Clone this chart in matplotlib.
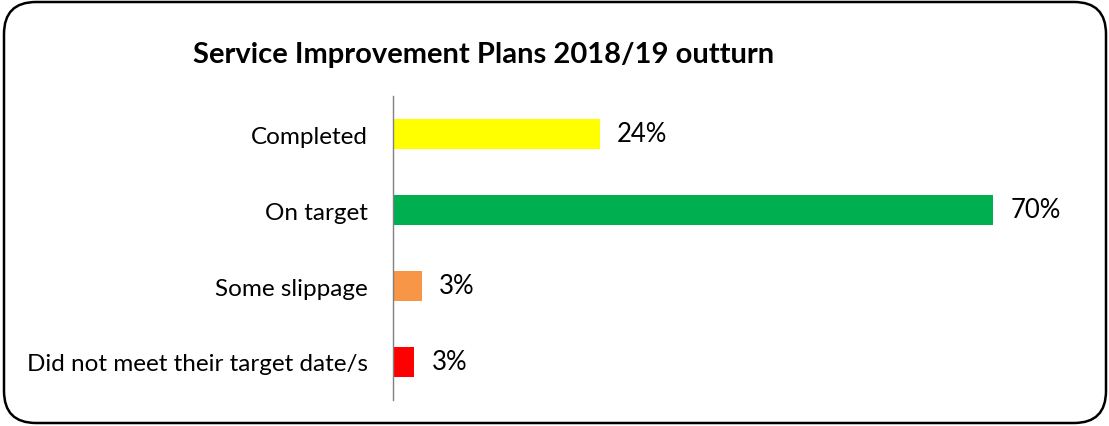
import matplotlib
matplotlib.use("Agg")
import matplotlib.pyplot as plt
from matplotlib.patches import FancyBboxPatch

categories = ["Completed", "On target", "Some slippage", "Did not meet their target date/s"]
values = [24.1, 70.0, 3.4, 2.5]
value_labels = ["24%", "70%", "3%", "3%"]
colors = ["#FFFF00", "#00B050", "#F79646", "#FF0000"]

plt.rcParams['font.family'] = ['Lato', 'DejaVu Sans']

W, H = 1109, 427
fig = plt.figure(figsize=(W / 100, H / 100), dpi=100)

# rounded frame round the whole chart
frame = FancyBboxPatch((0.04, 0.03), 11.02, 4.21,
                       boxstyle="round,pad=0,rounding_size=0.32",
                       transform=fig.dpi_scale_trans, fill=False,
                       edgecolor="black", linewidth=1.8)
fig.patches.append(frame)

# axes placed in pixels: left at the vertical axis line, 70% ends at x=993
xmax = 80
left, right = 393, 393 + 600 / 70 * xmax
top, bottom = 97, 401
ax = fig.add_axes([left / W, 1 - bottom / H, (right - left) / W, (bottom - top) / H])

y = list(range(len(categories)))
ax.barh(y, values, height=0.39, color=colors)
ax.set_ylim(len(categories) - 0.5, -0.5)
ax.set_xlim(0, xmax)

for yi, v, lab in zip(y, values, value_labels):
    ax.text(v + 2.0, yi, lab, va="center", ha="left", fontsize=18.5, color="black")

ax.set_yticks(y)
ax.set_yticklabels(categories, fontsize=17.5)
ax.tick_params(axis="y", length=0, pad=18)
ax.set_xticks([])
for s in ["top", "right", "bottom"]:
    ax.spines[s].set_visible(False)
ax.spines["left"].set_color("#808080")
ax.spines["left"].set_linewidth(1)

fig.text(484 / W, 1 - 55 / H, "Service Improvement Plans 2018/19 outturn",
         ha="center", va="center", fontsize=21, fontweight="bold")

fig.savefig("out.png", dpi=100)
